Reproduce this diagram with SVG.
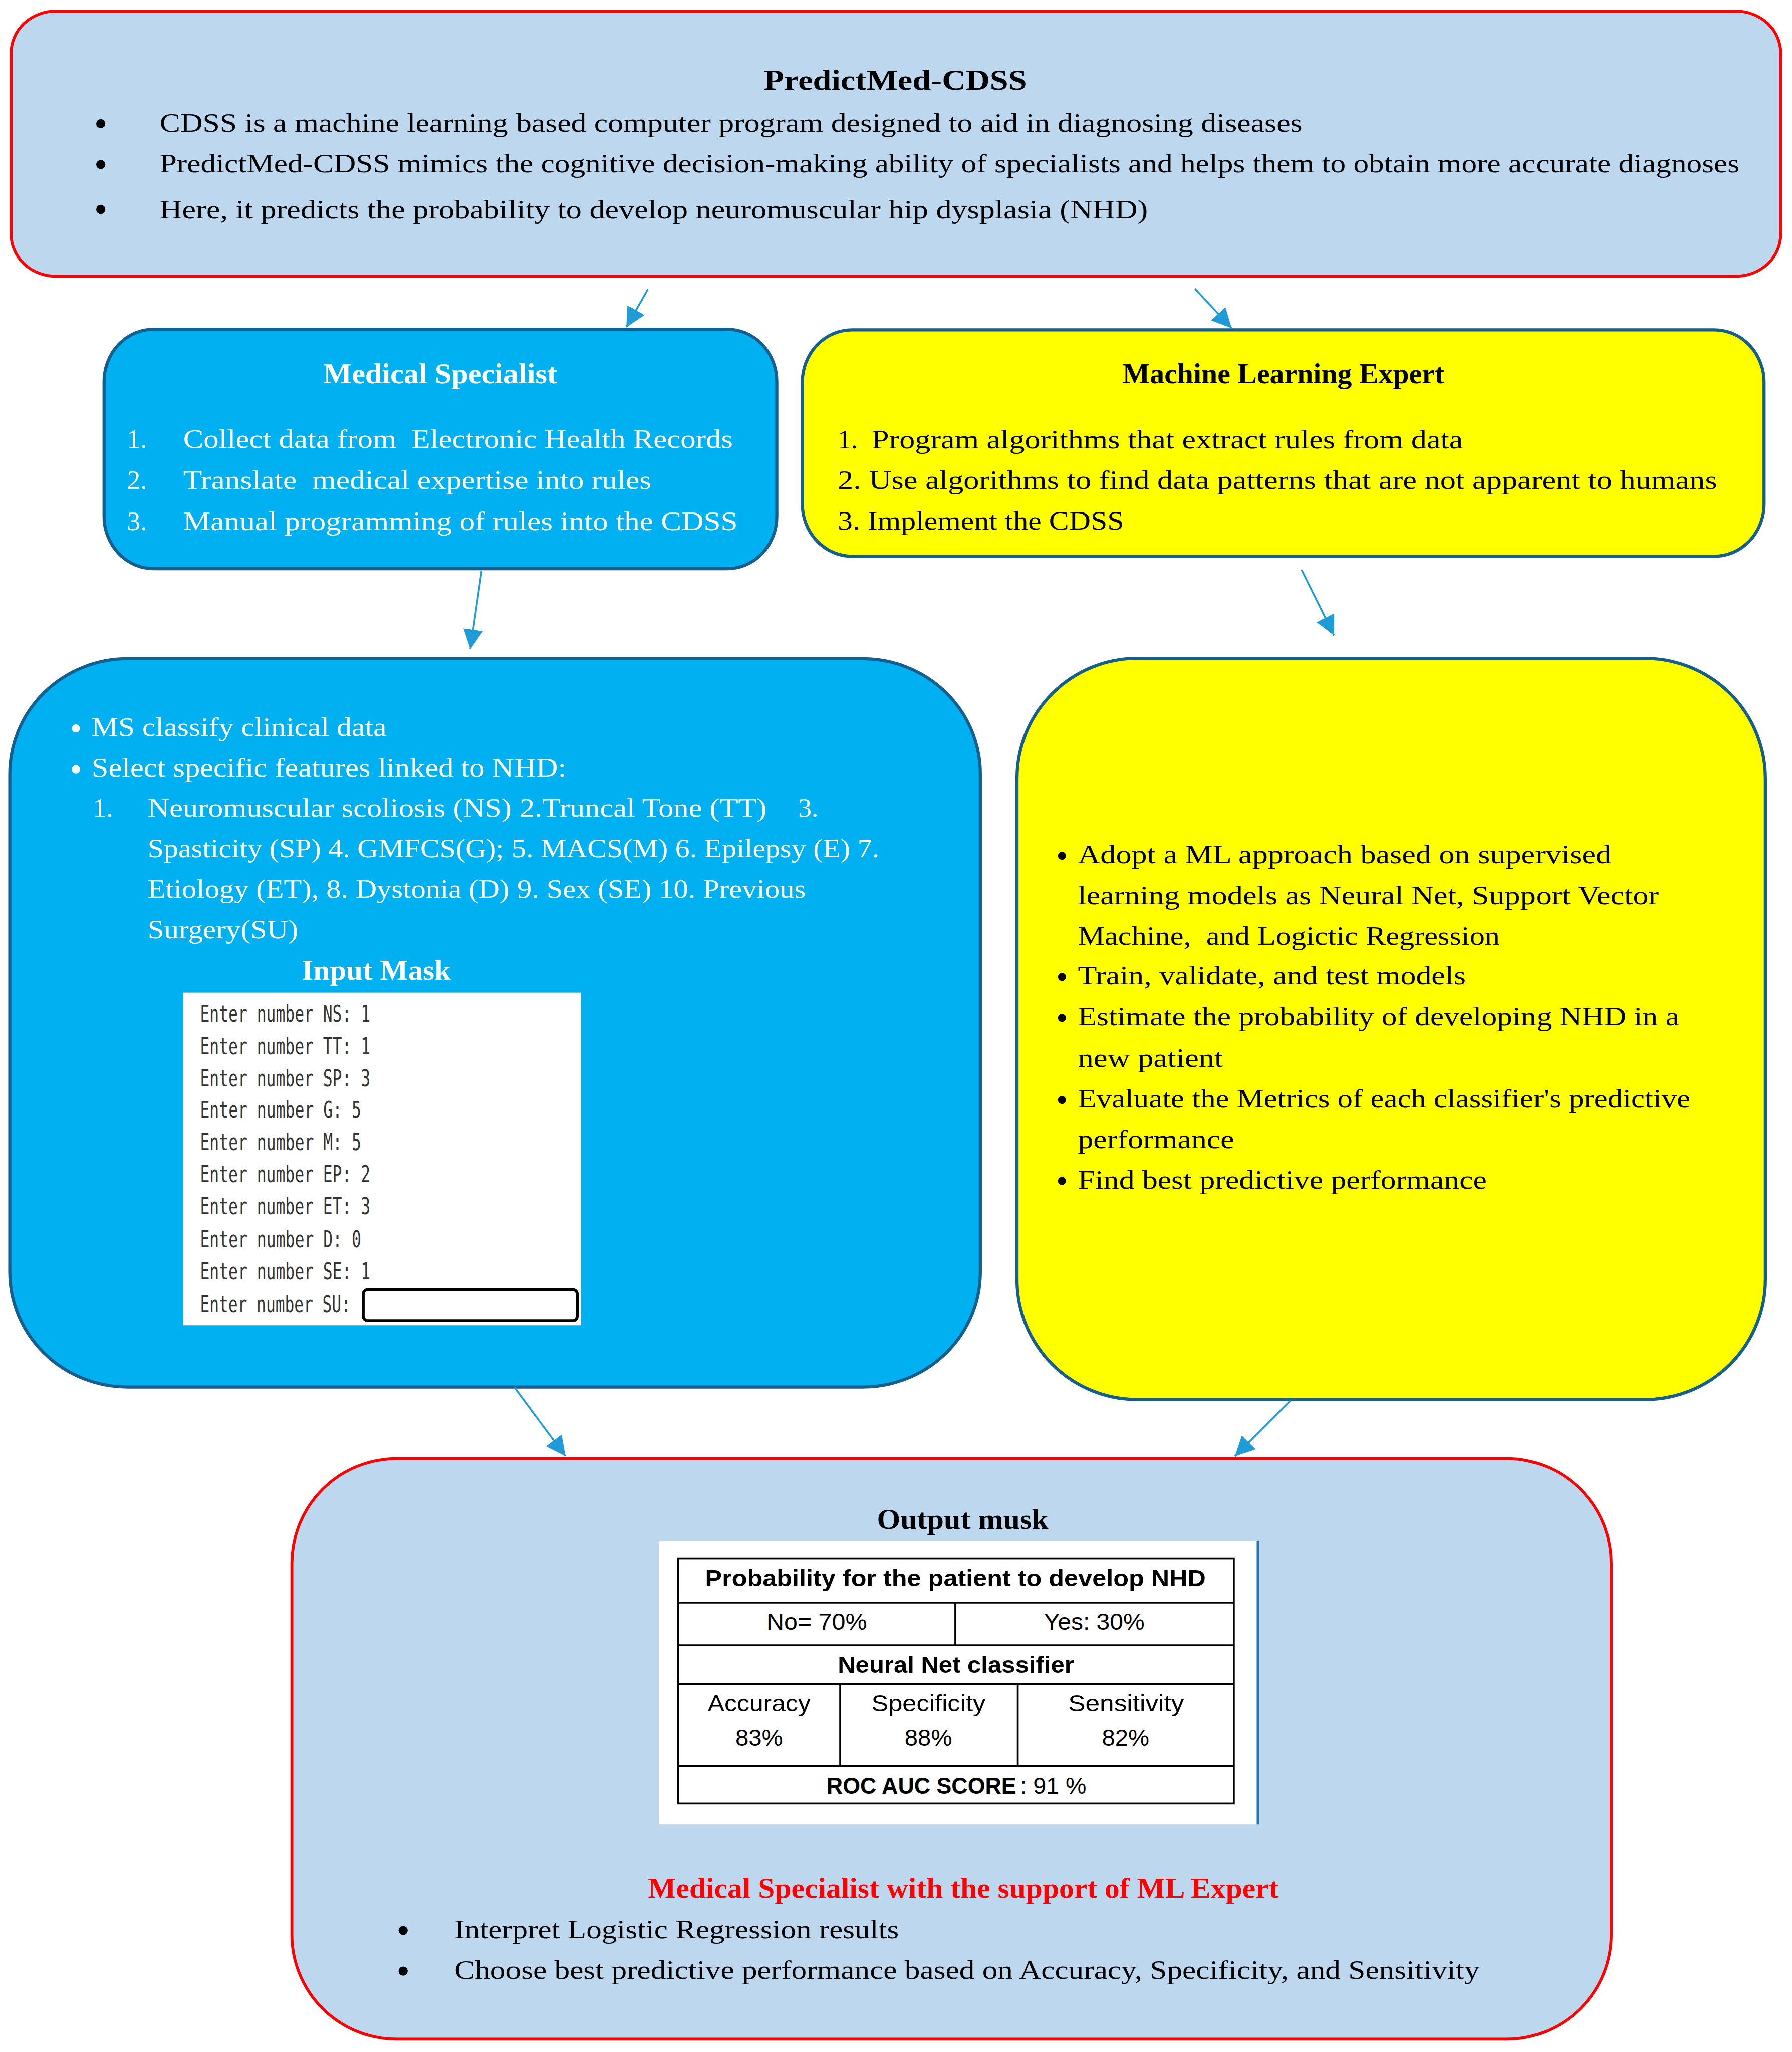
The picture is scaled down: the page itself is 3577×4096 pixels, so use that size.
<svg xmlns="http://www.w3.org/2000/svg" width="3577" height="4096" viewBox="0 0 3577 4096">
<defs>
<style>
.s{font-family:"Liberation Serif","Times New Roman",serif;font-size:20.5px;fill:#000;white-space:pre}
.t{font-family:"Liberation Serif","Times New Roman",serif;font-size:22px;font-weight:bold;fill:#000}
.w{fill:#fff}
.r{fill:#ff0000}
.m{font-family:"DejaVu Sans Mono","Liberation Mono",monospace;font-size:17.5px;fill:#333}
.c{font-family:"Liberation Sans",Arial,sans-serif;font-size:18px;fill:#000}
.cb{font-family:"Liberation Sans",Arial,sans-serif;font-size:18px;font-weight:bold;fill:#000}
.red{fill:#BDD7EE;stroke:#ff0000;stroke-width:2.2}
.cy{fill:#00B0F0;stroke:#155E8D;stroke-width:2.4}
.ye{fill:#FFFF00;stroke:#155E8D;stroke-width:2.4}
.tb{fill:none;stroke:#000;stroke-width:1.4}
.conn{stroke:#1F9BD7;stroke-width:1.4;fill:none;marker-end:url(#ah)}
</style>
<marker id="ah" markerUnits="userSpaceOnUse" markerWidth="15" markerHeight="15" refX="15" refY="7.5" orient="auto" viewBox="0 0 15 15">
<path d="M0,0 L15,7.5 L0,15 z" fill="#1F9BD7"/>
</marker>
</defs>
<rect width="3577" height="4096" fill="#fff"/>
<g transform="scale(2.6126)">

<g id="node-predictmed">
<rect class="red" x="8.5" y="8.5" width="1352" height="202.5" rx="34" ry="32"/>
<text class="t" x="684" y="68.5" text-anchor="middle" textLength="201" lengthAdjust="spacingAndGlyphs">PredictMed-CDSS</text>
<circle cx="77" cy="94.5" r="3.5"/>
<circle cx="77" cy="125.7" r="3.5"/>
<circle cx="77" cy="160" r="3.5"/>
<text class="s" x="122" y="100.5" textLength="873" lengthAdjust="spacingAndGlyphs">CDSS is a machine learning based computer program designed to aid in diagnosing diseases</text>
<text class="s" x="122" y="131.5" textLength="1207" lengthAdjust="spacingAndGlyphs">PredictMed-CDSS mimics the cognitive decision-making ability of specialists and helps them to obtain more accurate diagnoses</text>
<text class="s" x="122" y="167" textLength="755" lengthAdjust="spacingAndGlyphs">Here, it predicts the probability to develop neuromuscular hip dysplasia (NHD)</text>
</g>

<g id="node-medical-specialist">
<rect class="cy" x="79.5" y="251.5" width="514" height="183" rx="38" ry="40"/>
<text class="t w" x="336.3" y="292.9" text-anchor="middle" textLength="178.6" lengthAdjust="spacingAndGlyphs">Medical Specialist</text>
<text class="s w" x="97" y="342">1.</text>
<text class="s w" x="97" y="373.4">2.</text>
<text class="s w" x="97" y="404.8">3.</text>
<text class="s w" x="140" y="342" textLength="420" lengthAdjust="spacingAndGlyphs" xml:space="preserve">Collect data from  Electronic Health Records</text>
<text class="s w" x="140" y="373.4" textLength="357.7" lengthAdjust="spacingAndGlyphs" xml:space="preserve">Translate  medical expertise into rules</text>
<text class="s w" x="140" y="404.8" textLength="423.7" lengthAdjust="spacingAndGlyphs">Manual programming of rules into the CDSS</text>
</g>

<g id="node-ml-expert">
<rect class="ye" x="613" y="252" width="734.8" height="173" rx="38" ry="40"/>
<text class="t" x="980.6" y="292.9" text-anchor="middle" textLength="245.9" lengthAdjust="spacingAndGlyphs">Machine Learning Expert</text>
<text class="s" x="640" y="342.5">1.</text>
<text class="s" x="666" y="342.5" textLength="451.8" lengthAdjust="spacingAndGlyphs">Program algorithms that extract rules from data</text>
<text class="s" x="640" y="373.6" textLength="672" lengthAdjust="spacingAndGlyphs">2. Use algorithms to find data patterns that are not apparent to humans</text>
<text class="s" x="640" y="404.7" textLength="218.7" lengthAdjust="spacingAndGlyphs">3. Implement the CDSS</text>
</g>

<g id="node-ms-features">
<rect class="cy" x="7.5" y="503.3" width="741.5" height="556.4" rx="90" ry="88"/>
<circle cx="58" cy="556.6" r="3.1" fill="#fff"/>
<circle cx="58" cy="587.8" r="3.1" fill="#fff"/>
<text class="s w" x="70" y="562.4" textLength="225.3" lengthAdjust="spacingAndGlyphs">MS classify clinical data</text>
<text class="s w" x="70" y="593.2" textLength="362.6" lengthAdjust="spacingAndGlyphs">Select specific features linked to NHD:</text>
<text class="s w" x="71" y="624">1.</text>
<text class="s w" x="112.8" y="624" textLength="473" lengthAdjust="spacingAndGlyphs">Neuromuscular scoliosis (NS) 2.Truncal Tone (TT)</text>
<text class="s w" x="609.8" y="624">3.</text>
<text class="s w" x="112.8" y="655" textLength="559" lengthAdjust="spacingAndGlyphs">Spasticity (SP) 4. GMFCS(G); 5. MACS(M) 6. Epilepsy (E) 7.</text>
<text class="s w" x="112.8" y="686" textLength="502.8" lengthAdjust="spacingAndGlyphs">Etiology (ET), 8. Dystonia (D) 9. Sex (SE) 10. Previous</text>
<text class="s w" x="112.8" y="717" textLength="115" lengthAdjust="spacingAndGlyphs">Surgery(SU)</text>
<text class="t w" x="287.5" y="748.6" text-anchor="middle" textLength="114" lengthAdjust="spacingAndGlyphs">Input Mask</text>
<g id="input-mask">
<rect x="140" y="758.5" width="304" height="254" fill="#fff"/>
<text class="m" x="152.9" y="780.7" textLength="130" lengthAdjust="spacingAndGlyphs">Enter number NS: 1</text>
<text class="m" x="152.9" y="805.5" textLength="130" lengthAdjust="spacingAndGlyphs">Enter number TT: 1</text>
<text class="m" x="152.9" y="829.7" textLength="130" lengthAdjust="spacingAndGlyphs">Enter number SP: 3</text>
<text class="m" x="152.9" y="854" textLength="123" lengthAdjust="spacingAndGlyphs">Enter number G: 5</text>
<text class="m" x="152.9" y="879" textLength="123" lengthAdjust="spacingAndGlyphs">Enter number M: 5</text>
<text class="m" x="152.9" y="903.4" textLength="130" lengthAdjust="spacingAndGlyphs">Enter number EP: 2</text>
<text class="m" x="152.9" y="928" textLength="130" lengthAdjust="spacingAndGlyphs">Enter number ET: 3</text>
<text class="m" x="152.9" y="953" textLength="123" lengthAdjust="spacingAndGlyphs">Enter number D: 0</text>
<text class="m" x="152.9" y="977.5" textLength="130" lengthAdjust="spacingAndGlyphs">Enter number SE: 1</text>
<text class="m" x="152.9" y="1002.5" textLength="115" lengthAdjust="spacingAndGlyphs">Enter number SU:</text>
<rect x="277.5" y="985" width="163.5" height="24" rx="3.5" fill="#fff" stroke="#000" stroke-width="2.2"/>
</g>
</g>

<g id="node-ml-approach">
<rect class="ye" x="777" y="503" width="571.8" height="566.3" rx="92" ry="92"/>
<circle cx="811.4" cy="653.8" r="3.1"/>
<circle cx="811.4" cy="746.5" r="3.1"/>
<circle cx="811.4" cy="777.9" r="3.1"/>
<circle cx="811.4" cy="840.2" r="3.1"/>
<circle cx="811.4" cy="902.4" r="3.1"/>
<text class="s" x="823.5" y="659.6" textLength="407.5" lengthAdjust="spacingAndGlyphs">Adopt a ML approach based on supervised</text>
<text class="s" x="823.5" y="690.7" textLength="443.9" lengthAdjust="spacingAndGlyphs">learning models as Neural Net, Support Vector</text>
<text class="s" x="823.5" y="722" textLength="322.5" lengthAdjust="spacingAndGlyphs" xml:space="preserve">Machine,  and Logictic Regression</text>
<text class="s" x="823.5" y="752.3" textLength="296.5" lengthAdjust="spacingAndGlyphs">Train, validate, and test models</text>
<text class="s" x="823.5" y="783.7" textLength="459.5" lengthAdjust="spacingAndGlyphs">Estimate the probability of developing NHD in a</text>
<text class="s" x="823.5" y="814.8" textLength="111" lengthAdjust="spacingAndGlyphs">new patient</text>
<text class="s" x="823.5" y="846" textLength="468" lengthAdjust="spacingAndGlyphs">Evaluate the Metrics of each classifier's predictive</text>
<text class="s" x="823.5" y="877.3" textLength="119.5" lengthAdjust="spacingAndGlyphs">performance</text>
<text class="s" x="823.5" y="908.2" textLength="312.5" lengthAdjust="spacingAndGlyphs">Find best predictive performance</text>
</g>

<g id="node-output">
<rect class="red" x="223" y="1114.5" width="1008" height="443.5" rx="80" ry="80"/>
<text class="t" x="735.5" y="1168" text-anchor="middle" textLength="131" lengthAdjust="spacingAndGlyphs">Output musk</text>
<g id="output-table">
<rect x="503.5" y="1177" width="457.5" height="216.7" fill="#fff"/>
<line x1="961" y1="1177" x2="961" y2="1393.7" stroke="#1F72B0" stroke-width="1.7"/>
<rect class="tb" x="518" y="1190.6" width="424.7" height="187.1"/>
<line class="tb" x1="518" y1="1224.4" x2="942.7" y2="1224.4"/>
<line class="tb" x1="518" y1="1257" x2="942.7" y2="1257"/>
<line class="tb" x1="518" y1="1286.5" x2="942.7" y2="1286.5"/>
<line class="tb" x1="518" y1="1349.4" x2="942.7" y2="1349.4"/>
<line class="tb" x1="729.9" y1="1224.4" x2="729.9" y2="1257"/>
<line class="tb" x1="641.9" y1="1286.5" x2="641.9" y2="1349.4"/>
<line class="tb" x1="777.6" y1="1286.5" x2="777.6" y2="1349.4"/>
<text class="cb" x="730" y="1212" text-anchor="middle" textLength="382.5" lengthAdjust="spacingAndGlyphs">Probability for the patient to develop NHD</text>
<text class="c" x="624" y="1245.3" text-anchor="middle" textLength="76.7" lengthAdjust="spacingAndGlyphs">No= 70%</text>
<text class="c" x="836" y="1245.3" text-anchor="middle" textLength="77" lengthAdjust="spacingAndGlyphs">Yes: 30%</text>
<text class="cb" x="730.3" y="1278" text-anchor="middle" textLength="180.5" lengthAdjust="spacingAndGlyphs">Neural Net classifier</text>
<text class="c" x="580" y="1307.5" text-anchor="middle" textLength="78.5" lengthAdjust="spacingAndGlyphs">Accuracy</text>
<text class="c" x="709.4" y="1307.5" text-anchor="middle" textLength="87.2" lengthAdjust="spacingAndGlyphs">Specificity</text>
<text class="c" x="860.4" y="1307.5" text-anchor="middle" textLength="88.5" lengthAdjust="spacingAndGlyphs">Sensitivity</text>
<text class="c" x="580" y="1334" text-anchor="middle" textLength="36.2" lengthAdjust="spacingAndGlyphs">83%</text>
<text class="c" x="709.3" y="1334" text-anchor="middle" textLength="36.2" lengthAdjust="spacingAndGlyphs">88%</text>
<text class="c" x="860" y="1334" text-anchor="middle" textLength="36.2" lengthAdjust="spacingAndGlyphs">82%</text>
<text class="cb" x="631.5" y="1370.6" textLength="145" lengthAdjust="spacingAndGlyphs">ROC AUC SCORE</text>
<text class="c" x="779.5" y="1370.6" textLength="50.5" lengthAdjust="spacingAndGlyphs">: 91 %</text>
</g>
<text class="t r" x="736" y="1450" text-anchor="middle" textLength="482" lengthAdjust="spacingAndGlyphs">Medical Specialist with the support of ML Expert</text>
<circle cx="308" cy="1475" r="3.5"/>
<circle cx="308" cy="1506" r="3.5"/>
<text class="s" x="347.3" y="1481" textLength="339.5" lengthAdjust="spacingAndGlyphs">Interpret Logistic Regression results</text>
<text class="s" x="347.3" y="1512" textLength="783.2" lengthAdjust="spacingAndGlyphs">Choose best predictive performance based on Accuracy, Specificity, and Sensitivity</text>
</g>

<g id="connectors">
<line class="conn" x1="495" y1="221" x2="478.5" y2="250"/>
<line class="conn" x1="913" y1="220.6" x2="941" y2="250.7"/>
<line class="conn" x1="368" y1="436" x2="359.4" y2="496"/>
<line class="conn" x1="994.4" y1="435.3" x2="1019.3" y2="485.5"/>
<line class="conn" x1="393" y1="1060" x2="432" y2="1112.6"/>
<line class="conn" x1="986" y1="1070" x2="943.5" y2="1112.7"/>
</g>

</g>
</svg>
